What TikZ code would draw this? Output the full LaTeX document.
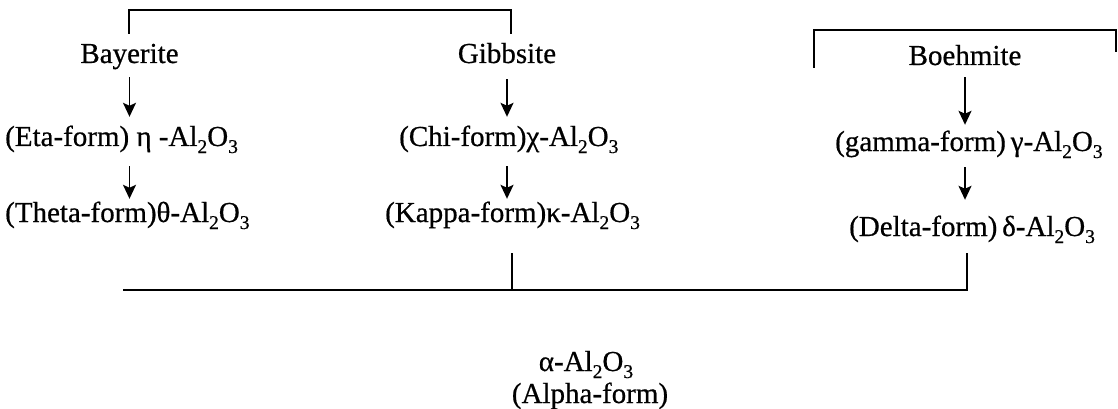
\documentclass[tikz,border=0pt]{standalone}
\usepackage{fontspec}
\setmainfont{Liberation Serif}[FakeBold=0.6]
\usetikzlibrary{arrows.meta}
\newcommand\sbx[1]{\raisebox{-7pt}{\fontsize{19.5}{19.5}\selectfont #1}}
\newcommand\alo{-Al\sbx{2}O\sbx{3}}
\begin{document}
\begin{tikzpicture}[x=1pt,y=-1pt,
  lbl/.style={inner sep=0pt,text height=18pt,text depth=6pt,font=\fontsize{29}{30}\selectfont},
  brk/.style={line width=2pt},
  arr/.style={line width=1.8pt,-{Stealth[length=14pt,width=13pt,inset=3pt]}}]
\useasboundingbox (0,0) rectangle (1118,409);
% top row
\node[lbl,anchor=base] (bay) at (129.5,63) {Bayerite};
\node[lbl,anchor=base] (gib) at (507,63) {Gibbsite};
\node[lbl,anchor=base] (boe) at (965,65) {Boehmite};
% second row
\node[lbl,anchor=base west] (eta) at (5,146) {(Eta-form) η -Al\sbx{2}O\sbx{3}};
\node[lbl,anchor=base west] (chi) at (399,146) {(Chi-form)χ\alo};
\node[lbl,anchor=base west] (gam) at (835,151) {(gamma-form)\,γ\alo};
% third row
\node[lbl,anchor=base west] (the) at (5,222) {(Theta-form)θ\alo};
\node[lbl,anchor=base west] (kap) at (385,222) {(Kappa-form)κ\alo};
\node[lbl,anchor=base west] (del) at (849,236) {(Delta-form)\,δ\alo};
% alpha
\node[lbl,anchor=base] (alp) at (586,371) {α\alo};
\node[lbl,anchor=base] (alpf) at (590,403) {(Alpha-form)};
% brackets
\coordinate (bayTop) at (129,34);
\coordinate (gibTop) at (511,34);
\draw[brk] (bayTop) -- (129,10) -| (gibTop);
\coordinate (boeL) at (814,68);
\coordinate (boeR) at (1116,52);
\draw[brk] (boeL) -- (814,30) -| (boeR);
% arrows
\draw[arr,shorten <=8pt,shorten >=11pt] (bay.south) -- (bay.south |- eta.north);
\draw[arr,shorten <=14pt,shorten >=5pt] (bay.south |- eta.south) -- (bay.south |- the.north);
\draw[arr,shorten <=10pt,shorten >=11pt] (gib.south) -- (gib.south |- chi.north);
\draw[arr,shorten <=14pt,shorten >=5pt] (gib.south |- chi.south) -- (gib.south |- kap.north);
\draw[arr,shorten <=6pt,shorten >=8pt] (boe.south) -- (boe.south |- gam.north);
\draw[arr,shorten <=10pt,shorten >=18pt] (boe.south |- gam.south) -- (boe.south |- del.north);
% bottom join
\coordinate (kapDrop) at (512,253);
\coordinate (delDrop) at (967,253);
\coordinate (joinL) at (123,290);
\draw[brk] (delDrop) |- (joinL);
\draw[brk] (kapDrop) -- (kapDrop |- joinL);
\end{tikzpicture}
\end{document}
